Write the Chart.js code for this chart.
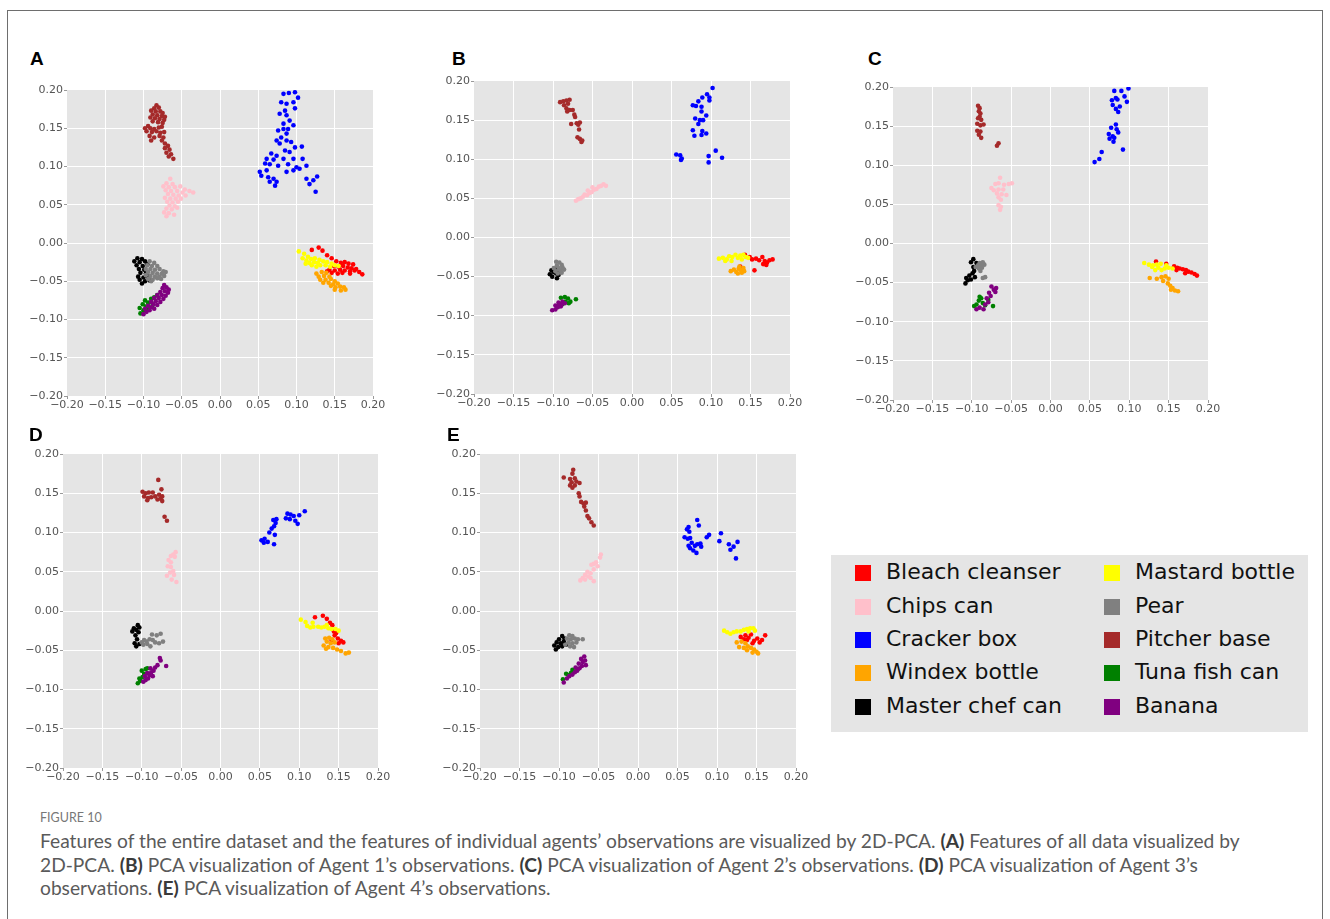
<!DOCTYPE html>
<html><head><meta charset="utf-8">
<script src="https://cdn.jsdelivr.net/npm/chart.js@4.4.1/dist/chart.umd.min.js"></script>
<style>
body{margin:0;width:1330px;height:919px;background:#fff;position:relative;overflow:hidden;}
#frame{position:absolute;left:7px;top:10px;width:1316px;height:960px;border:1px solid #6e6e6e;box-sizing:border-box;}
canvas.pc{position:absolute;}
.lab{position:absolute;font:bold 19px 'Liberation Sans',Arial,sans-serif;color:#000;line-height:1;}
#legend{position:absolute;left:831px;top:555px;width:477px;height:177px;background:#e5e5e5;}
.li{position:absolute;font:22px 'DejaVu Sans';color:#111;line-height:22px;white-space:nowrap;}
.sw{position:absolute;width:16px;height:16px;}
#fig{position:absolute;left:40px;top:810px;font:12.5px Lato,sans-serif;color:#777;white-space:nowrap;}
#cap{position:absolute;left:40px;top:829px;font:16.5px Lato,sans-serif;color:#5a5a5a;line-height:23.5px;white-space:nowrap;}
#cap b{color:#3a3a3a;}
</style></head>
<body>
<div id="frame"></div>
<div id="legend"></div>
<div id="fig">FIGURE 10</div>
<div id="cap"><span id="l1">Features of the entire dataset and the features of individual agents’ observations are visualized by 2D-PCA. <b>(A)</b> Features of all data visualized by</span><br>2D-PCA. <b>(B)</b> PCA visualization of Agent 1’s observations. <b>(C)</b> PCA visualization of Agent 2’s observations. <b>(D)</b> PCA visualization of Agent 3’s<br>observations. <b>(E)</b> PCA visualization of Agent 4’s observations.</div>
<script>
// ---------- categories & tick labels ----------
const categories = ["Bleach cleanser","Chips can","Cracker box","Windex bottle","Master chef can","Mastard bottle","Pear","Pitcher base","Tuna fish can","Banana"];
const tickValues = [-0.20,-0.15,-0.10,-0.05,0.00,0.05,0.10,0.15,0.20];
const panelLabels = ["A","B","C","D","E"];

// ---------- Panel A ----------
const A_bleach = [[0.120,-0.009],[0.129,-0.006],[0.134,-0.010],[0.140,-0.016],[0.146,-0.020],[0.152,-0.024],[0.158,-0.026],[0.163,-0.025],[0.168,-0.027],[0.174,-0.028],[0.149,-0.030],[0.155,-0.031],[0.161,-0.030],[0.167,-0.032],[0.172,-0.033],[0.178,-0.034],[0.143,-0.035],[0.150,-0.036],[0.157,-0.035],[0.163,-0.036],[0.170,-0.037],[0.176,-0.036],[0.182,-0.038],[0.186,-0.041],[0.146,-0.039],[0.154,-0.040],[0.160,-0.039],[0.170,-0.040],[0.140,-0.037]];
const A_chips = [[-0.065,0.084],[-0.070,0.078],[-0.062,0.077],[-0.074,0.074],[-0.067,0.073],[-0.059,0.073],[-0.052,0.074],[-0.046,0.070],[-0.071,0.069],[-0.064,0.068],[-0.056,0.068],[-0.049,0.066],[-0.040,0.068],[-0.035,0.066],[-0.068,0.064],[-0.061,0.063],[-0.054,0.062],[-0.045,0.062],[-0.072,0.059],[-0.065,0.058],[-0.058,0.058],[-0.051,0.058],[-0.069,0.054],[-0.062,0.053],[-0.055,0.054],[-0.066,0.049],[-0.059,0.048],[-0.070,0.045],[-0.063,0.044],[-0.056,0.046],[-0.073,0.040],[-0.067,0.039],[-0.060,0.037],[-0.070,0.035]];
const A_cracker = [[0.083,0.195],[0.090,0.196],[0.098,0.197],[0.102,0.190],[0.080,0.184],[0.087,0.182],[0.096,0.184],[0.098,0.176],[0.085,0.173],[0.078,0.169],[0.087,0.167],[0.091,0.160],[0.083,0.156],[0.096,0.154],[0.076,0.147],[0.083,0.149],[0.089,0.149],[0.087,0.143],[0.080,0.138],[0.074,0.134],[0.087,0.134],[0.093,0.132],[0.078,0.130],[0.098,0.125],[0.107,0.126],[0.085,0.121],[0.091,0.119],[0.067,0.117],[0.074,0.114],[0.061,0.110],[0.070,0.109],[0.083,0.110],[0.096,0.110],[0.108,0.110],[0.059,0.104],[0.065,0.103],[0.076,0.101],[0.089,0.103],[0.100,0.099],[0.113,0.101],[0.052,0.093],[0.061,0.095],[0.087,0.093],[0.096,0.095],[0.104,0.097],[0.054,0.088],[0.063,0.086],[0.070,0.084],[0.074,0.080],[0.065,0.080],[0.113,0.084],[0.127,0.087],[0.122,0.082],[0.117,0.077],[0.072,0.075],[0.125,0.067]];
const A_windex = [[0.126,-0.040],[0.133,-0.038],[0.139,-0.039],[0.129,-0.044],[0.136,-0.043],[0.143,-0.044],[0.131,-0.048],[0.138,-0.048],[0.145,-0.047],[0.150,-0.050],[0.135,-0.052],[0.142,-0.052],[0.148,-0.054],[0.154,-0.053],[0.145,-0.056],[0.151,-0.058],[0.157,-0.057],[0.162,-0.058],[0.150,-0.061],[0.158,-0.062],[0.164,-0.061]];
const A_chef = [[-0.108,-0.020],[-0.102,-0.021],[-0.112,-0.024],[-0.105,-0.025],[-0.098,-0.024],[-0.109,-0.029],[-0.101,-0.030],[-0.095,-0.028],[-0.106,-0.034],[-0.099,-0.035],[-0.104,-0.039],[-0.097,-0.040],[-0.107,-0.044],[-0.100,-0.045],[-0.094,-0.044],[-0.105,-0.048],[-0.098,-0.050],[-0.092,-0.049],[-0.102,-0.053]];
const A_mastard = [[0.103,-0.011],[0.110,-0.014],[0.115,-0.018],[0.108,-0.020],[0.113,-0.023],[0.119,-0.021],[0.124,-0.020],[0.130,-0.022],[0.117,-0.026],[0.123,-0.025],[0.128,-0.026],[0.135,-0.024],[0.140,-0.025],[0.146,-0.027],[0.112,-0.027],[0.120,-0.029],[0.131,-0.029],[0.138,-0.029],[0.144,-0.031],[0.150,-0.029],[0.155,-0.030],[0.126,-0.031]];
const A_pear = [[-0.092,-0.024],[-0.086,-0.026],[-0.095,-0.029],[-0.089,-0.030],[-0.082,-0.030],[-0.097,-0.034],[-0.091,-0.034],[-0.085,-0.035],[-0.079,-0.034],[-0.074,-0.037],[-0.094,-0.038],[-0.088,-0.039],[-0.082,-0.040],[-0.076,-0.040],[-0.071,-0.038],[-0.097,-0.042],[-0.091,-0.043],[-0.085,-0.044],[-0.079,-0.044],[-0.073,-0.043],[-0.094,-0.047],[-0.088,-0.048],[-0.082,-0.046],[-0.090,-0.050],[-0.077,-0.047]];
const A_pitcher = [[-0.083,0.180],[-0.086,0.176],[-0.080,0.177],[-0.090,0.173],[-0.084,0.172],[-0.078,0.172],[-0.075,0.170],[-0.088,0.168],[-0.082,0.167],[-0.076,0.166],[-0.072,0.165],[-0.091,0.164],[-0.085,0.163],[-0.079,0.162],[-0.073,0.161],[-0.088,0.159],[-0.081,0.158],[-0.075,0.157],[-0.094,0.153],[-0.098,0.150],[-0.091,0.150],[-0.086,0.149],[-0.080,0.151],[-0.076,0.152],[-0.096,0.146],[-0.089,0.145],[-0.083,0.146],[-0.078,0.144],[-0.073,0.145],[-0.092,0.140],[-0.086,0.138],[-0.079,0.140],[-0.074,0.138],[-0.090,0.134],[-0.076,0.134],[-0.072,0.130],[-0.068,0.127],[-0.072,0.124],[-0.066,0.122],[-0.070,0.118],[-0.064,0.116],[-0.067,0.113],[-0.061,0.110]];
const A_tuna = [[-0.104,-0.092],[-0.100,-0.088],[-0.105,-0.085],[-0.097,-0.083],[-0.101,-0.080],[-0.094,-0.078],[-0.098,-0.075],[-0.090,-0.073],[-0.086,-0.071],[-0.082,-0.068],[-0.093,-0.086],[-0.088,-0.081]];
const A_banana = [[-0.100,-0.093],[-0.096,-0.090],[-0.092,-0.088],[-0.098,-0.086],[-0.090,-0.084],[-0.086,-0.086],[-0.094,-0.082],[-0.087,-0.080],[-0.082,-0.081],[-0.090,-0.077],[-0.084,-0.076],[-0.078,-0.077],[-0.086,-0.072],[-0.080,-0.072],[-0.074,-0.073],[-0.082,-0.068],[-0.076,-0.068],[-0.071,-0.069],[-0.078,-0.064],[-0.072,-0.063],[-0.068,-0.065],[-0.075,-0.059],[-0.070,-0.058],[-0.073,-0.055],[-0.067,-0.061]];

// ---------- Panel B ----------
const B_bleach = [[0.143,-0.022],[0.149,-0.025],[0.152,-0.028],[0.157,-0.027],[0.161,-0.029],[0.165,-0.025],[0.168,-0.030],[0.171,-0.032],[0.174,-0.029],[0.178,-0.028],[0.166,-0.034],[0.170,-0.035],[0.155,-0.042],[0.137,-0.037]];
const B_chips = [[-0.071,0.047],[-0.068,0.049],[-0.065,0.050],[-0.062,0.052],[-0.060,0.055],[-0.057,0.054],[-0.054,0.057],[-0.056,0.060],[-0.051,0.058],[-0.048,0.061],[-0.050,0.064],[-0.045,0.062],[-0.042,0.065],[-0.039,0.066],[-0.036,0.068],[-0.033,0.066]];
const B_cracker = [[0.102,0.191],[0.095,0.183],[0.098,0.179],[0.098,0.175],[0.089,0.179],[0.084,0.174],[0.077,0.169],[0.081,0.168],[0.088,0.167],[0.088,0.161],[0.094,0.156],[0.080,0.152],[0.086,0.150],[0.090,0.150],[0.084,0.145],[0.077,0.137],[0.089,0.136],[0.094,0.133],[0.079,0.130],[0.088,0.131],[0.056,0.106],[0.061,0.105],[0.063,0.101],[0.062,0.099],[0.106,0.111],[0.097,0.104],[0.114,0.102],[0.097,0.096]];
const B_windex = [[0.125,-0.043],[0.129,-0.041],[0.132,-0.044],[0.135,-0.040],[0.138,-0.042],[0.141,-0.039],[0.134,-0.046],[0.139,-0.045],[0.142,-0.043],[0.136,-0.037]];
const B_chef = [[-0.102,-0.042],[-0.099,-0.044],[-0.104,-0.047],[-0.096,-0.046],[-0.093,-0.048],[-0.101,-0.050],[-0.095,-0.052],[-0.097,-0.040],[-0.092,-0.044]];
const B_mastard = [[0.110,-0.027],[0.115,-0.026],[0.120,-0.028],[0.123,-0.024],[0.127,-0.025],[0.131,-0.022],[0.134,-0.026],[0.137,-0.023],[0.141,-0.022],[0.144,-0.025],[0.147,-0.026],[0.126,-0.030],[0.118,-0.030],[0.139,-0.028]];
const B_pear = [[-0.096,-0.031],[-0.092,-0.032],[-0.089,-0.035],[-0.095,-0.036],[-0.099,-0.039],[-0.093,-0.039],[-0.088,-0.038],[-0.097,-0.043],[-0.091,-0.042],[-0.086,-0.041],[-0.094,-0.046],[-0.089,-0.045]];
const B_pitcher = [[-0.091,0.173],[-0.087,0.174],[-0.083,0.175],[-0.079,0.176],[-0.081,0.171],[-0.086,0.169],[-0.083,0.165],[-0.079,0.163],[-0.075,0.163],[-0.082,0.161],[-0.073,0.157],[-0.072,0.154],[-0.077,0.145],[-0.070,0.146],[-0.068,0.144],[-0.066,0.147],[-0.067,0.138],[-0.069,0.128],[-0.066,0.126],[-0.064,0.122],[-0.063,0.124]];
const B_tuna = [[-0.090,-0.077],[-0.085,-0.076],[-0.081,-0.078],[-0.084,-0.082],[-0.080,-0.084],[-0.071,-0.079],[-0.088,-0.085],[-0.093,-0.088],[-0.078,-0.082]];
const B_banana = [[-0.101,-0.093],[-0.097,-0.092],[-0.094,-0.089],[-0.097,-0.087],[-0.092,-0.086],[-0.089,-0.085],[-0.093,-0.083],[-0.088,-0.082],[-0.085,-0.084],[-0.090,-0.088]];

// ---------- Panel C ----------
const C_bleach = [[0.134,-0.023],[0.147,-0.026],[0.157,-0.029],[0.161,-0.031],[0.164,-0.032],[0.168,-0.033],[0.172,-0.034],[0.175,-0.036],[0.179,-0.037],[0.183,-0.039],[0.186,-0.041],[0.171,-0.038],[0.160,-0.034]];
const C_chips = [[-0.064,0.084],[-0.070,0.076],[-0.066,0.077],[-0.059,0.075],[-0.053,0.076],[-0.049,0.077],[-0.075,0.071],[-0.072,0.068],[-0.066,0.069],[-0.060,0.069],[-0.068,0.064],[-0.062,0.063],[-0.066,0.059],[-0.056,0.062],[-0.063,0.056],[-0.066,0.049],[-0.063,0.047],[-0.064,0.043]];
const C_cracker = [[0.099,0.198],[0.090,0.195],[0.081,0.195],[0.094,0.188],[0.083,0.186],[0.078,0.183],[0.085,0.184],[0.097,0.181],[0.079,0.177],[0.088,0.175],[0.083,0.172],[0.086,0.168],[0.083,0.152],[0.077,0.148],[0.084,0.146],[0.086,0.142],[0.074,0.140],[0.079,0.137],[0.081,0.135],[0.075,0.134],[0.080,0.130],[0.092,0.120],[0.065,0.117],[0.062,0.108],[0.056,0.104]];
const C_windex = [[0.126,-0.044],[0.135,-0.045],[0.141,-0.043],[0.146,-0.042],[0.150,-0.045],[0.143,-0.048],[0.149,-0.051],[0.152,-0.054],[0.155,-0.057],[0.158,-0.060],[0.162,-0.061],[0.153,-0.059]];
const C_chef = [[-0.098,-0.020],[-0.101,-0.024],[-0.094,-0.025],[-0.098,-0.030],[-0.097,-0.035],[-0.099,-0.038],[-0.103,-0.041],[-0.107,-0.044],[-0.105,-0.047],[-0.101,-0.046],[-0.096,-0.043],[-0.108,-0.051]];
const C_mastard = [[0.119,-0.025],[0.125,-0.027],[0.130,-0.028],[0.135,-0.027],[0.140,-0.026],[0.137,-0.031],[0.133,-0.034],[0.141,-0.034],[0.145,-0.032],[0.150,-0.031],[0.155,-0.032],[0.129,-0.030],[0.147,-0.028]];
const C_pear = [[-0.090,-0.025],[-0.086,-0.024],[-0.092,-0.028],[-0.088,-0.028],[-0.084,-0.027],[-0.091,-0.032],[-0.087,-0.031],[-0.095,-0.030],[-0.089,-0.035],[-0.083,-0.043],[-0.086,-0.044]];
const C_pitcher = [[-0.092,0.176],[-0.090,0.173],[-0.091,0.169],[-0.089,0.166],[-0.090,0.162],[-0.092,0.160],[-0.088,0.158],[-0.093,0.153],[-0.089,0.151],[-0.085,0.152],[-0.093,0.144],[-0.089,0.143],[-0.091,0.139],[-0.088,0.135],[-0.066,0.128],[-0.068,0.125]];
const C_tuna = [[-0.094,-0.078],[-0.097,-0.080],[-0.091,-0.073],[-0.088,-0.070],[-0.086,-0.076],[-0.083,-0.079],[-0.079,-0.072],[-0.073,-0.080],[-0.090,-0.068]];
const C_banana = [[-0.094,-0.084],[-0.090,-0.082],[-0.085,-0.084],[-0.083,-0.078],[-0.079,-0.075],[-0.081,-0.070],[-0.076,-0.067],[-0.078,-0.063],[-0.072,-0.059],[-0.075,-0.055],[-0.069,-0.057],[-0.070,-0.062]];

// ---------- Panel D ----------
const D_bleach = [[0.130,-0.006],[0.120,-0.008],[0.135,-0.010],[0.139,-0.015],[0.142,-0.018],[0.144,-0.026],[0.147,-0.028],[0.145,-0.031],[0.149,-0.035],[0.153,-0.038],[0.156,-0.040],[0.150,-0.041],[0.141,-0.037]];
const D_chips = [[-0.057,0.075],[-0.060,0.072],[-0.063,0.070],[-0.058,0.069],[-0.066,0.065],[-0.063,0.062],[-0.067,0.057],[-0.063,0.056],[-0.060,0.051],[-0.064,0.049],[-0.068,0.045],[-0.059,0.046],[-0.062,0.040],[-0.056,0.037]];
const D_cracker = [[0.107,0.127],[0.100,0.122],[0.093,0.121],[0.089,0.123],[0.085,0.124],[0.083,0.118],[0.088,0.117],[0.095,0.115],[0.098,0.111],[0.071,0.117],[0.067,0.116],[0.070,0.112],[0.068,0.108],[0.065,0.105],[0.062,0.100],[0.069,0.097],[0.056,0.092],[0.052,0.090],[0.055,0.087],[0.060,0.088],[0.068,0.085]];
const D_windex = [[0.133,-0.035],[0.138,-0.034],[0.142,-0.036],[0.135,-0.039],[0.140,-0.041],[0.145,-0.040],[0.131,-0.044],[0.137,-0.046],[0.143,-0.047],[0.148,-0.049],[0.153,-0.051],[0.159,-0.054],[0.163,-0.053],[0.134,-0.048]];
const D_chef = [[-0.105,-0.018],[-0.110,-0.022],[-0.107,-0.024],[-0.103,-0.021],[-0.112,-0.026],[-0.104,-0.027],[-0.108,-0.031],[-0.106,-0.036],[-0.109,-0.041],[-0.103,-0.042],[-0.107,-0.045]];
const D_mastard = [[0.102,-0.011],[0.108,-0.014],[0.110,-0.019],[0.114,-0.021],[0.118,-0.020],[0.124,-0.020],[0.117,-0.015],[0.132,-0.020],[0.137,-0.022],[0.141,-0.023],[0.146,-0.023],[0.150,-0.025],[0.128,-0.021],[0.135,-0.018]];
const D_pear = [[-0.100,-0.040],[-0.097,-0.037],[-0.094,-0.039],[-0.098,-0.043],[-0.093,-0.042],[-0.090,-0.036],[-0.087,-0.030],[-0.086,-0.037],[-0.081,-0.031],[-0.076,-0.029],[-0.083,-0.040],[-0.078,-0.041],[-0.073,-0.039],[-0.089,-0.045]];
const D_pitcher = [[-0.079,0.167],[-0.099,0.152],[-0.095,0.150],[-0.091,0.151],[-0.086,0.151],[-0.075,0.155],[-0.097,0.146],[-0.092,0.144],[-0.088,0.145],[-0.083,0.146],[-0.078,0.148],[-0.074,0.146],[-0.080,0.142],[-0.076,0.143],[-0.074,0.140],[-0.093,0.141],[-0.071,0.120],[-0.068,0.115]];
const D_tuna = [[-0.105,-0.092],[-0.102,-0.089],[-0.099,-0.084],[-0.103,-0.086],[-0.097,-0.080],[-0.100,-0.076],[-0.095,-0.074],[-0.093,-0.073]];
const D_banana = [[-0.098,-0.090],[-0.095,-0.088],[-0.092,-0.086],[-0.096,-0.083],[-0.090,-0.082],[-0.093,-0.079],[-0.088,-0.078],[-0.085,-0.076],[-0.089,-0.073],[-0.083,-0.072],[-0.080,-0.069],[-0.076,-0.063],[-0.077,-0.060],[-0.069,-0.070],[-0.086,-0.083]];

// ---------- Panel E ----------
const E_bleach = [[0.130,-0.033],[0.136,-0.031],[0.140,-0.034],[0.143,-0.030],[0.138,-0.037],[0.147,-0.038],[0.151,-0.035],[0.154,-0.040],[0.157,-0.037],[0.161,-0.031],[0.145,-0.041],[0.134,-0.036]];
const E_chips = [[-0.047,0.072],[-0.048,0.068],[-0.053,0.062],[-0.056,0.060],[-0.059,0.059],[-0.051,0.057],[-0.056,0.053],[-0.064,0.050],[-0.060,0.048],[-0.067,0.046],[-0.063,0.044],[-0.070,0.042],[-0.073,0.039],[-0.067,0.040],[-0.060,0.042],[-0.056,0.038]];
const E_cracker = [[0.075,0.116],[0.077,0.109],[0.064,0.107],[0.062,0.104],[0.065,0.101],[0.059,0.094],[0.063,0.092],[0.068,0.087],[0.064,0.083],[0.066,0.080],[0.072,0.083],[0.075,0.085],[0.070,0.077],[0.074,0.074],[0.080,0.082],[0.079,0.086],[0.087,0.094],[0.090,0.097],[0.105,0.099],[0.103,0.089],[0.115,0.085],[0.117,0.078],[0.121,0.082],[0.126,0.088],[0.124,0.067],[0.066,0.093]];
const E_windex = [[0.125,-0.040],[0.131,-0.039],[0.136,-0.041],[0.128,-0.046],[0.134,-0.047],[0.139,-0.045],[0.143,-0.047],[0.147,-0.049],[0.150,-0.052],[0.152,-0.054],[0.145,-0.053],[0.138,-0.050]];
const E_chef = [[-0.096,-0.032],[-0.100,-0.036],[-0.093,-0.035],[-0.103,-0.040],[-0.098,-0.041],[-0.094,-0.039],[-0.106,-0.044],[-0.101,-0.046],[-0.096,-0.045],[-0.104,-0.049],[-0.091,-0.043]];
const E_mastard = [[0.109,-0.025],[0.113,-0.027],[0.117,-0.029],[0.121,-0.027],[0.125,-0.026],[0.130,-0.026],[0.134,-0.024],[0.138,-0.023],[0.142,-0.022],[0.146,-0.022],[0.148,-0.025],[0.140,-0.026]];
const E_pear = [[-0.087,-0.031],[-0.083,-0.032],[-0.090,-0.035],[-0.085,-0.036],[-0.080,-0.035],[-0.076,-0.036],[-0.070,-0.036],[-0.088,-0.040],[-0.083,-0.041],[-0.078,-0.040],[-0.086,-0.045],[-0.081,-0.046],[-0.092,-0.043]];
const E_pitcher = [[-0.082,0.180],[-0.083,0.175],[-0.094,0.170],[-0.086,0.168],[-0.080,0.169],[-0.084,0.164],[-0.078,0.165],[-0.074,0.163],[-0.086,0.160],[-0.080,0.160],[-0.083,0.157],[-0.075,0.150],[-0.074,0.146],[-0.072,0.139],[-0.069,0.137],[-0.066,0.138],[-0.068,0.133],[-0.066,0.128],[-0.064,0.121],[-0.062,0.118],[-0.059,0.113],[-0.056,0.109]];
const E_tuna = [[-0.095,-0.087],[-0.091,-0.080],[-0.088,-0.082],[-0.085,-0.079],[-0.080,-0.077],[-0.076,-0.074],[-0.083,-0.075]];
const E_banana = [[-0.094,-0.091],[-0.090,-0.086],[-0.087,-0.083],[-0.083,-0.081],[-0.080,-0.078],[-0.077,-0.076],[-0.079,-0.072],[-0.074,-0.073],[-0.071,-0.070],[-0.075,-0.067],[-0.070,-0.065],[-0.067,-0.063],[-0.066,-0.069],[-0.072,-0.061],[-0.068,-0.058]];

// ---------- styles & layout (not data) ----------
const colors = ["#ff0000","#ffc0cb","#0000ff","#ffa500","#000000","#ffff00","#808080","#a52a2a","#008000","#800080"];
const panelSeries = {
  A:[A_bleach,A_chips,A_cracker,A_windex,A_chef,A_mastard,A_pear,A_pitcher,A_tuna,A_banana],
  B:[B_bleach,B_chips,B_cracker,B_windex,B_chef,B_mastard,B_pear,B_pitcher,B_tuna,B_banana],
  C:[C_bleach,C_chips,C_cracker,C_windex,C_chef,C_mastard,C_pear,C_pitcher,C_tuna,C_banana],
  D:[D_bleach,D_chips,D_cracker,D_windex,D_chef,D_mastard,D_pear,D_pitcher,D_tuna,D_banana],
  E:[E_bleach,E_chips,E_cracker,E_windex,E_chef,E_mastard,E_pear,E_pitcher,E_tuna,E_banana]
};
// plot-area rectangles [left, top, right, bottom] and label positions
const plotBoxes = {A:[67,90,373,396],B:[474,81,790,394],C:[893,87,1208,400],D:[63,454,378,768],E:[480,454,796,768]};
const labelPos = {A:[30,49],B:[452,49],C:[868,49],D:[29,425],E:[447,425]};

const AXW=50, AXH=22, PT=10, PR=16;
const bgPlugin = {id:'bg', beforeDraw(c){const a=c.chartArea,x=c.ctx;x.save();x.fillStyle='#e5e5e5';x.fillRect(a.left,a.top,a.right-a.left,a.bottom-a.top);x.restore();}};
const fmt = v => { if (Math.abs(v)<1e-9) v=0; return (v<0?'\u22120':'0') + '.' + Math.round(Math.abs(v)*100).toString().padStart(2,'0'); };
const gridColor = ctx => (ctx.tick && Math.abs(Math.abs(ctx.tick.value)-0.2)<1e-6) ? 'rgba(0,0,0,0)' : '#ffffff';
const tickFont = {family:'DejaVu Sans', size:11};

panelLabels.forEach(p => {
  const [L,T,R,B] = plotBoxes[p];
  const cv = document.createElement('canvas');
  cv.className='pc';
  const w = (R-L)+AXW+PR, h=(B-T)+PT+AXH;
  cv.width=w; cv.height=h;
  cv.style.left=(L-AXW)+'px'; cv.style.top=(T-PT)+'px';
  cv.style.width=w+'px'; cv.style.height=h+'px';
  document.body.appendChild(cv);
  const lab=document.createElement('div'); lab.className='lab'; lab.textContent=p;
  lab.style.left=labelPos[p][0]+'px'; lab.style.top=labelPos[p][1]+'px';
  document.body.appendChild(lab);
  const datasets = panelSeries[p].map((arr,i)=>({
    label:categories[i],
    data:arr.map(d=>({x:d[0],y:d[1]})),
    backgroundColor:colors[i], borderWidth:0,
    pointRadius:2.3, pointHoverRadius:2.3,
    order:10-i
  }));
  new Chart(cv,{
    type:'scatter',
    data:{datasets},
    options:{
      responsive:false, animation:false, devicePixelRatio:1,
      layout:{padding:{top:PT,right:PR,left:0,bottom:0}},
      plugins:{legend:{display:false},tooltip:{enabled:false}},
      scales:{
        x:{type:'linear',min:-0.2,max:0.2,
           afterBuildTicks:s=>{s.ticks=tickValues.map(v=>({value:v}));},
           afterFit:s=>{s.height=AXH;},
           border:{display:false},
           grid:{color:gridColor,lineWidth:1,tickColor:'#999',tickLength:3},
           ticks:{callback:fmt,autoSkip:false,maxRotation:0,minRotation:0,padding:0,color:'#555',font:tickFont}},
        y:{type:'linear',min:-0.2,max:0.2,
           afterBuildTicks:s=>{s.ticks=tickValues.map(v=>({value:v}));},
           afterFit:s=>{s.width=AXW;},
           border:{display:false},
           grid:{color:gridColor,lineWidth:1,tickColor:'#999',tickLength:3},
           ticks:{callback:fmt,autoSkip:false,padding:1,color:'#555',font:tickFont}}
      }
    },
    plugins:[bgPlugin]
  });
});

// legend (column-major, 2 columns x 5 rows)
const leg=document.getElementById('legend');
const rowY=[18,52,85,118,152];
categories.forEach((c,i)=>{
  const col=Math.floor(i/5), row=i%5;
  const sw=document.createElement('div'); sw.className='sw'; sw.style.background=colors[i];
  sw.style.left=(col?273:24)+'px'; sw.style.top=(rowY[row]-8)+'px'; leg.appendChild(sw);
  const t=document.createElement('div'); t.className='li'; t.textContent=c;
  t.style.left=(col?304:55)+'px'; t.style.top=(rowY[row]-12)+'px'; leg.appendChild(t);
});

// fit caption width to the reference line length
const l1=document.getElementById('l1'); const cap=document.getElementById('cap');
const wl=l1.getBoundingClientRect().width;
if(wl>0){cap.style.fontSize=(16.5*1200/wl)+'px';}
</script>
</body></html>
